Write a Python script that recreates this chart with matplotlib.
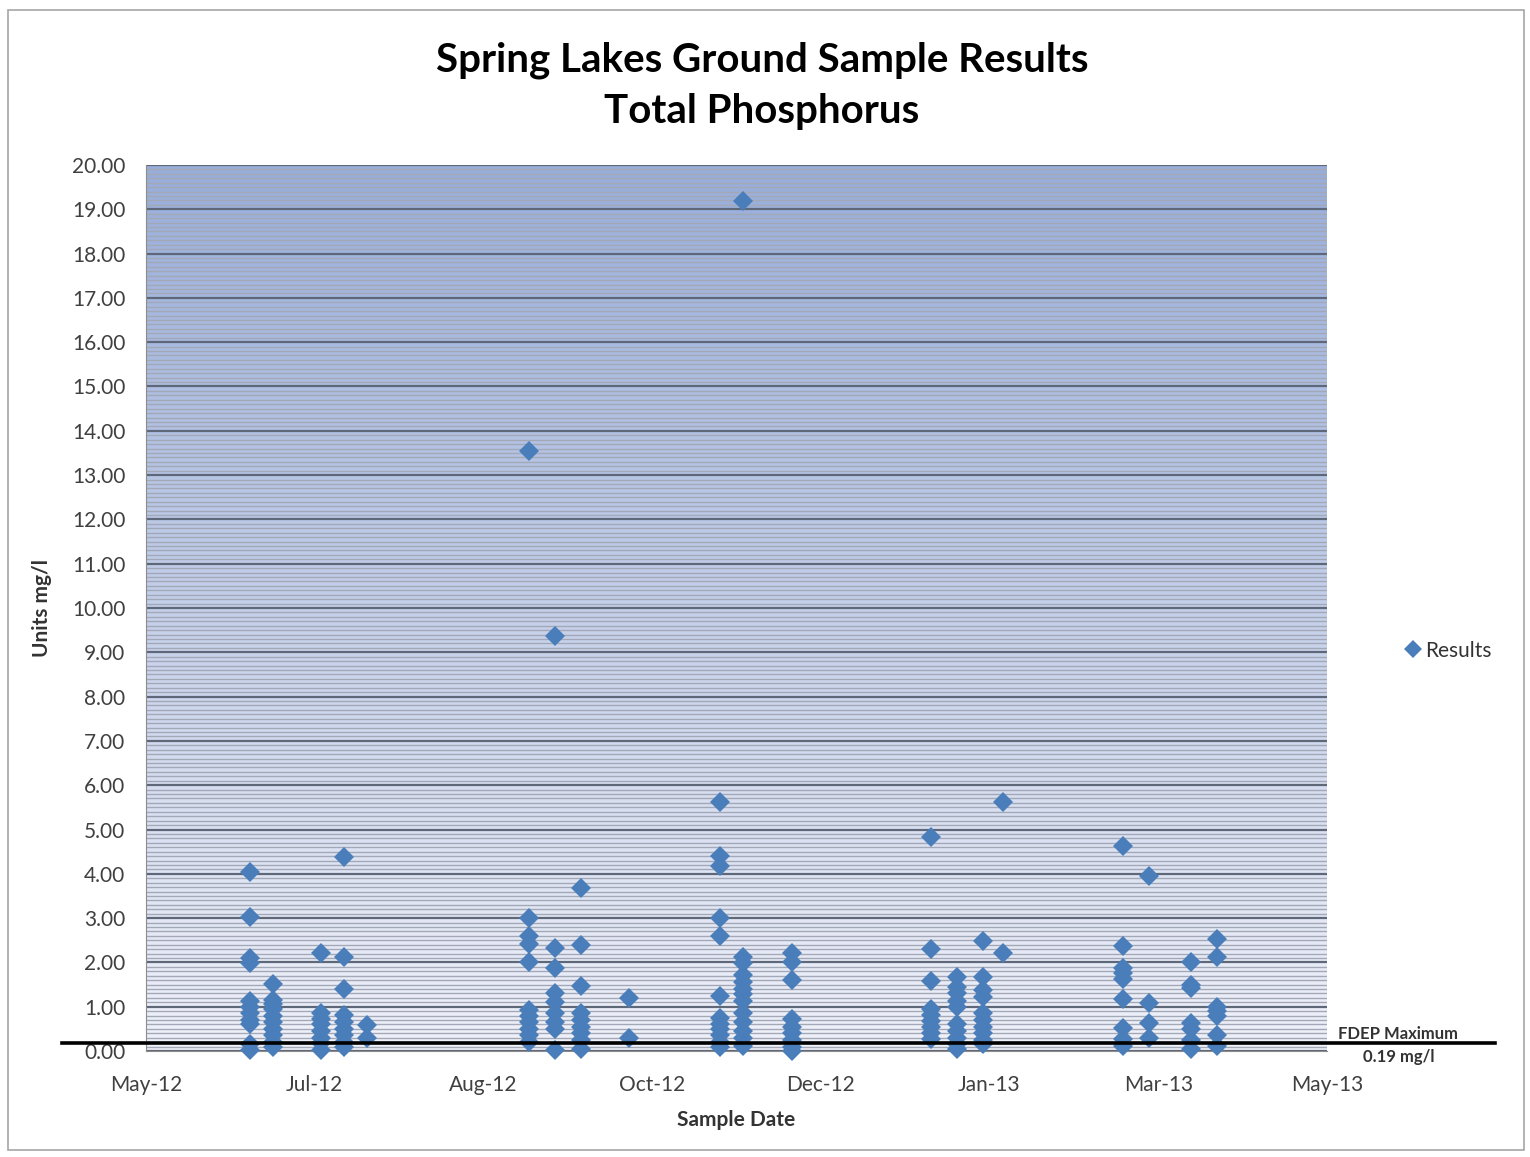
import datetime as dt

import matplotlib.pyplot as plt
import matplotlib.dates as mdates
import numpy as np
from matplotlib.patches import Rectangle
from matplotlib.ticker import MultipleLocator

plt.rcParams['font.family'] = ['Lato', 'DejaVu Sans']

# sample dates and the total phosphorus results (mg/l) taken on each
sample_dates = [
    "2012-06-11", "2012-06-18", "2012-07-03", "2012-07-10", "2012-07-17",
    "2012-09-05", "2012-09-13", "2012-09-21", "2012-10-06",
    "2012-11-03", "2012-11-10", "2012-11-25",
    "2013-01-07", "2013-01-15", "2013-01-23", "2013-01-29",
    "2013-03-07", "2013-03-15", "2013-03-28", "2013-04-05",
]
results = [
    [4.03, 3.02, 2.10, 1.98, 1.13, 1.00, 0.85, 0.70, 0.60, 0.15, 0.02],
    [1.52, 1.15, 1.05, 0.95, 0.80, 0.65, 0.50, 0.35, 0.20, 0.08],
    [2.22, 0.85, 0.72, 0.60, 0.45, 0.30, 0.18, 0.02],
    [4.37, 2.12, 1.40, 0.82, 0.65, 0.50, 0.35, 0.20, 0.08],
    [0.58, 0.30],
    [13.54, 3.01, 2.60, 2.42, 2.00, 0.92, 0.78, 0.65, 0.50, 0.35, 0.20],
    [9.36, 2.33, 1.87, 1.32, 1.10, 0.85, 0.65, 0.50, 0.02],
    [3.67, 2.40, 1.47, 0.85, 0.70, 0.55, 0.40, 0.25, 0.05],
    [1.20, 0.30],
    [5.61, 4.40, 4.18, 3.01, 2.60, 1.24, 0.75, 0.62, 0.50, 0.35, 0.20, 0.08],
    [19.19, 2.12, 1.98, 1.72, 1.55, 1.40, 1.28, 1.12, 0.85, 0.65, 0.45, 0.30, 0.12],
    [2.22, 2.00, 1.60, 0.72, 0.55, 0.40, 0.25, 0.10, 0.00],
    [4.82, 2.30, 1.58, 0.95, 0.82, 0.68, 0.55, 0.40, 0.28],
    [1.66, 1.45, 1.30, 1.12, 1.00, 0.60, 0.45, 0.30, 0.15, 0.05],
    [2.49, 1.66, 1.38, 1.22, 0.85, 0.70, 0.55, 0.40, 0.25, 0.15],
    [5.61, 2.22],
    [4.63, 2.37, 1.88, 1.75, 1.62, 1.17, 0.53, 0.27, 0.12],
    [3.95, 1.09, 0.64, 0.30],
    [2.00, 1.48, 1.42, 0.64, 0.50, 0.25, 0.05],
    [2.52, 2.12, 1.00, 0.90, 0.78, 0.35, 0.12],
]
fdep_max = 0.19

axis_start = dt.date(2012, 5, 10)
axis_step_days = 52
n_ticks = 8

xs, ys = [], []
for d, vals in zip(sample_dates, results):
    day = dt.date.fromisoformat(d)
    xs += [day] * len(vals)
    ys += vals

fig = plt.figure(figsize=(15.30, 11.57), dpi=100)
fig.patches.append(Rectangle((0.005, 0.006), 0.991, 0.985, transform=fig.transFigure,
                             fill=False, edgecolor='#a6a6a6', linewidth=1.2))

ax = fig.add_axes([146 / 1530, 1 - 1051 / 1157, 1181 / 1530, 886 / 1157])

# blue-to-white gradient behind the plot area
grad = np.linspace(0, 1, 256)[:, None]
top = np.array([152, 173, 218]) / 255
bottom = np.array([240, 242, 250]) / 255
colors = top * (1 - grad[..., None]) + bottom * grad[..., None]
colors = np.repeat(colors, 2, axis=1)
ax.imshow(colors, extent=[0, 1, 0, 1], transform=ax.transAxes, aspect='auto', zorder=0)

ticks = [axis_start + dt.timedelta(days=axis_step_days * i) for i in range(n_ticks)]
ax.set_xlim(ticks[0], ticks[-1])
ax.set_ylim(0, 20)
ax.set_xticks(ticks)
ax.xaxis.set_major_formatter(mdates.DateFormatter('%b-%y'))
ax.yaxis.set_major_locator(MultipleLocator(1))
ax.yaxis.set_minor_locator(MultipleLocator(0.1))
ax.yaxis.set_major_formatter(lambda v, p: f"{v:.2f}")

ax.grid(which='minor', axis='y', color='#a3a8b6', linewidth=1.0, zorder=1)
ax.grid(which='major', axis='y', color='#5f6878', linewidth=1.6, zorder=1)
ax.set_axisbelow(True)

ax.tick_params(axis='both', which='both', length=0, labelcolor='#404040')
ax.tick_params(axis='x', pad=17, labelsize=15)
ax.tick_params(axis='y', pad=15, labelsize=15)
for side in ['top', 'right']:
    ax.spines[side].set_visible(False)
ax.spines['left'].set_color('#8c8c8c')
ax.spines['bottom'].set_color('#8c8c8c')

ax.plot(xs, ys, linestyle='none', marker='D', markersize=10.2, color='#4a7ebb',
        markeredgewidth=0, label='Results', zorder=3, clip_on=False)

# regulatory limit line, running past both sides of the plot area
ax.plot([-0.071, 1.142], [fdep_max, fdep_max], transform=ax.get_yaxis_transform(),
        color='black', linewidth=2.6, clip_on=False, zorder=4)
ax.text(1.060, fdep_max + 0.02, "FDEP Maximum", transform=ax.get_yaxis_transform(),
        ha='center', va='bottom', fontsize=12, fontweight='bold', color='#333333')
ax.text(1.061, fdep_max - 0.14, "0.19 mg/l", transform=ax.get_yaxis_transform(),
        ha='center', va='top', fontsize=12, fontweight='bold', color='#333333')

ax.set_xlabel("Sample Date", fontsize=15, fontweight='bold', color='#333333', labelpad=11)
ax.set_ylabel("Units mg/l", fontsize=15, fontweight='bold', color='#333333', labelpad=14)

fig.text(0.498, 0.926, "Spring Lakes Ground Sample Results\nTotal Phosphorus",
         ha='center', va='center', fontsize=29, fontweight='bold', color='black',
         linespacing=1.45)

ax.legend(loc='center left', bbox_to_anchor=(1.048, 0.452), frameon=False,
          fontsize=15, handletextpad=0.1, handlelength=1.0, markerscale=0.85,
          labelcolor='#333333')

fig.savefig("out.png", dpi=100)
